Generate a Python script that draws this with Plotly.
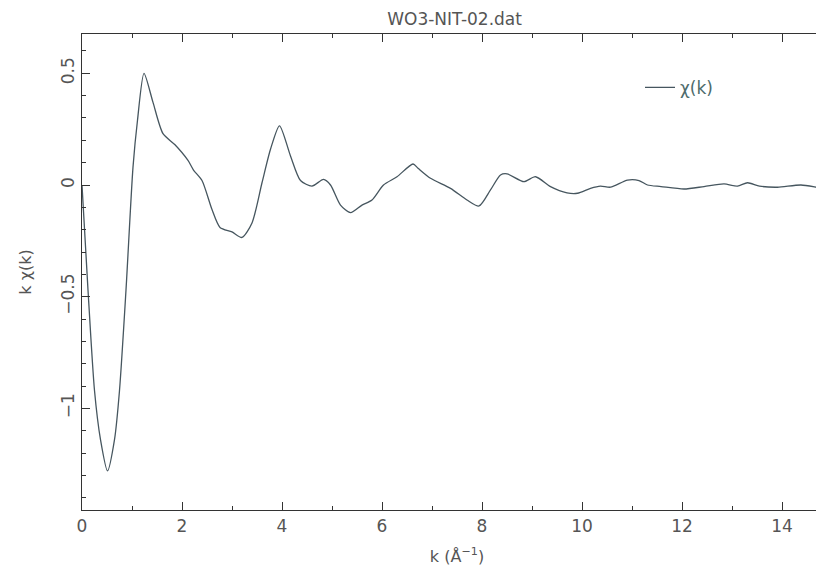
import plotly.graph_objects as go

title_text = "WO3-NIT-02.dat"
series_name = "χ(k)"

k_vals = [0.0, 0.12, 0.25, 0.37, 0.51, 0.65, 0.75, 0.88, 1.02, 1.11, 1.24,
          1.42, 1.62, 1.86, 2.12, 2.23, 2.40, 2.60, 2.76, 3.00, 3.20, 3.40,
          3.60, 3.77, 3.95, 4.17, 4.37, 4.60, 4.83, 4.97, 5.17, 5.37, 5.60,
          5.80, 6.03, 6.30, 6.62, 6.72, 6.97, 7.37, 7.70, 7.94, 8.17, 8.37,
          8.50, 8.84, 9.07, 9.37, 9.70, 9.91, 10.17, 10.37, 10.57, 10.91,
          11.14, 11.31, 11.58, 12.04, 12.44, 12.84, 13.11, 13.31, 13.55,
          13.91, 14.38, 14.87, 15.0]
chi_vals = [0.0, -0.47, -0.92, -1.14, -1.28, -1.14, -0.92, -0.47, 0.08, 0.29,
            0.50, 0.37, 0.23, 0.18, 0.11, 0.067, 0.02, -0.11, -0.19, -0.21,
            -0.235, -0.17, 0.01, 0.16, 0.265, 0.13, 0.02, -0.005, 0.025, 0.0,
            -0.09, -0.124, -0.09, -0.067, 0.0, 0.037, 0.094, 0.075, 0.03,
            -0.015, -0.067, -0.094, -0.022, 0.045, 0.05, 0.015, 0.037, -0.007,
            -0.035, -0.037, -0.015, -0.005, -0.01, 0.022, 0.02, 0.0, -0.007,
            -0.018, -0.007, 0.005, -0.005, 0.01, -0.005, -0.01, 0.0, -0.015,
            -0.01]

x_tick_vals = [0, 2, 4, 6, 8, 10, 12, 14]
y_tick_vals = [-1, -0.5, 0, 0.5]
y_tick_text = ["−1", "−0.5", "0", "0.5"]

fig = go.Figure()
fig.add_trace(go.Scatter(
    x=k_vals, y=chi_vals, mode="lines", name=series_name,
    line=dict(color="#46565f", width=1.3, shape="spline", smoothing=0.7),
))
# invisible copy to draw the top axis ticks (major + minor)
fig.add_trace(go.Scatter(
    x=k_vals, y=chi_vals, mode="lines", xaxis="x2", showlegend=False,
    hoverinfo="skip", line=dict(color="rgba(0,0,0,0)", width=0),
))

tick_font = dict(family="DejaVu Sans", size=17, color="#555555")
axis_common = dict(
    showline=True, linecolor="#333333", linewidth=1.2,
    ticks="inside", ticklen=8, tickcolor="#333333", tickwidth=1.2,
    showgrid=False, zeroline=False, tickfont=tick_font,
)

fig.update_layout(
    width=824, height=571,
    paper_bgcolor="white", plot_bgcolor="white",
    margin=dict(l=74, r=0, t=26, b=69),
    title=dict(text=title_text, x=0.542, xanchor="center", y=0.98, yanchor="middle",
               font=dict(family="DejaVu Sans", size=17, color="#555555")),
    xaxis=dict(range=[0, 15], tickvals=x_tick_vals,
               minor=dict(dtick=1, tick0=0, ticks="inside", ticklen=4, tickcolor="#333333"),
               title=dict(text="k (Å<sup>−1</sup>)", standoff=16,
                          font=dict(family="DejaVu Sans", size=16, color="#555555")),
               **axis_common),
    xaxis2=dict(range=[0, 15], overlaying="x", side="top", tickvals=x_tick_vals,
                showticklabels=False,
                minor=dict(dtick=1, tick0=0, ticks="inside", ticklen=4, tickcolor="#333333"),
                **axis_common),
    yaxis=dict(range=[-1.455, 0.676], tickvals=y_tick_vals, ticktext=y_tick_text,
               tickangle=-90, mirror="ticks",
               minor=dict(dtick=0.1, tick0=0, ticks="inside", ticklen=4, tickcolor="#333333"),
               title=dict(text="k χ(k)", standoff=22,
                          font=dict(family="DejaVu Sans", size=16, color="#555555")),
               **axis_common),
    showlegend=True,
    legend=dict(x=0.744, y=0.887, xanchor="left", yanchor="middle",
                bgcolor="rgba(0,0,0,0)",
                font=dict(family="DejaVu Sans", size=17, color="#4d6b6b")),
)

fig.write_html("out.html")
